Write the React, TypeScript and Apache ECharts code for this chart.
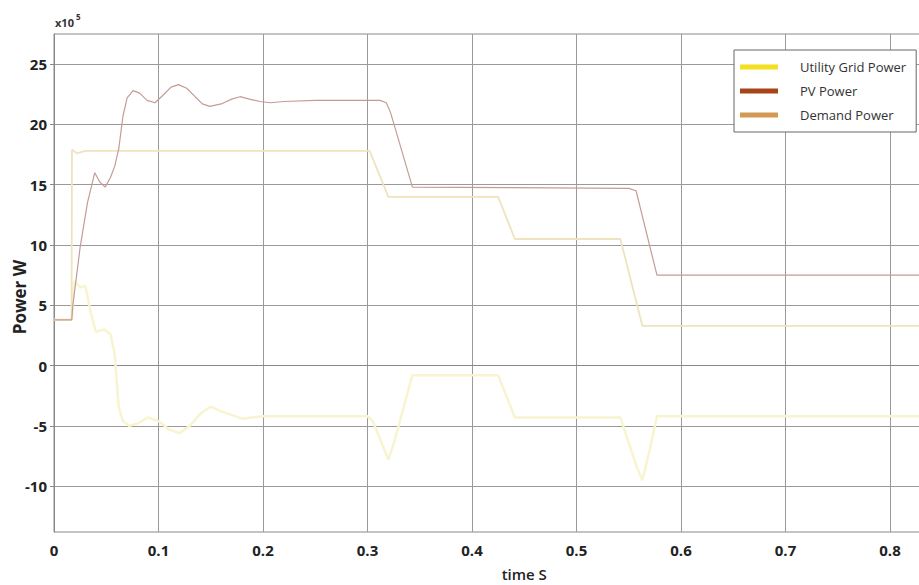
import React, { useEffect, useRef } from "react";
import * as echarts from "echarts";

// ---- data (power in x10^5 W, time in s) ----
const pvTime = [0, 0.017, 0.018, 0.025, 0.032, 0.039, 0.044, 0.049, 0.054, 0.058, 0.062, 0.066, 0.07, 0.0756, 0.082, 0.089, 0.0967, 0.104, 0.112, 0.119, 0.127, 0.135, 0.142, 0.149, 0.16, 0.17, 0.178, 0.187, 0.197, 0.207, 0.22, 0.25, 0.312, 0.318, 0.322, 0.343, 0.55, 0.557, 0.577, 0.9];
const pvPower = [3.8, 3.8, 5.0, 9.8, 13.5, 16.0, 15.2, 14.8, 15.6, 16.5, 18.0, 20.7, 22.2, 22.8, 22.6, 22.0, 21.8, 22.4, 23.1, 23.3, 23.0, 22.3, 21.7, 21.5, 21.7, 22.1, 22.3, 22.1, 21.9, 21.8, 21.9, 22.0, 22.0, 21.8, 21.0, 14.8, 14.7, 14.5, 7.5, 7.5];

const demandTime = [0, 0.0168, 0.0172, 0.022, 0.03, 0.302, 0.32, 0.425, 0.441, 0.542, 0.563, 0.9];
const demandPower = [3.8, 3.8, 17.9, 17.6, 17.8, 17.8, 14.0, 14.0, 10.5, 10.5, 3.3, 3.3];

const gridTime = [0, 0.0172, 0.019, 0.025, 0.03, 0.035, 0.04, 0.048, 0.054, 0.058, 0.062, 0.066, 0.072, 0.08, 0.09, 0.1, 0.11, 0.12, 0.13, 0.14, 0.15, 0.16, 0.18, 0.2, 0.3, 0.305, 0.32, 0.325, 0.343, 0.425, 0.441, 0.542, 0.558, 0.563, 0.57, 0.577, 0.9];
const gridPower = [3.8, 3.8, 7.0, 6.5, 6.6, 4.5, 2.8, 3.0, 2.6, 1.0, -3.5, -4.6, -5.0, -4.8, -4.3, -4.6, -5.3, -5.6, -5.0, -4.0, -3.4, -3.8, -4.4, -4.2, -4.2, -4.6, -7.8, -6.5, -0.8, -0.8, -4.3, -4.3, -8.5, -9.5, -7.0, -4.2, -4.2];

const yTicks = [-10, -5, 0, 5, 10, 15, 20, 25];
const seriesNames = ["Utility Grid Power", "PV Power", "Demand Power"];
const yAxisTitle = "Power W";
const xAxisTitle = "time S";

const FONT = "Open Sans";

function pairs(t: number[], v: number[]) {
  return t.map((x, i) => [x, v[i]]);
}

export default function App() {
  const ref = useRef<HTMLDivElement>(null);
  useEffect(() => {
    if (!ref.current) return;
    const chart = echarts.init(ref.current, undefined, { renderer: "svg" });
    const labelStyle = { color: "#222", fontSize: 15, fontWeight: "bold" as const, fontFamily: FONT };
    chart.setOption({
      animation: false,
      backgroundColor: "#ffffff",
      grid: {
        left: 54,
        top: 34,
        width: 940.5,
        height: 498,
        show: true,
        borderColor: "#8a8a8a",
        borderWidth: 1,
        containLabel: false,
        outerBoundsMode: "none",
      },
      legend: {
        left: 734,
        top: 50,
        orient: "vertical",
        icon: "rect",
        itemWidth: 38,
        itemHeight: 5,
        itemGap: 8,
        padding: [9, 6, 9, 6],
        backgroundColor: "#ffffff",
        borderColor: "#666",
        borderWidth: 1,
        borderRadius: 0,
        textStyle: { color: "#333", fontSize: 13, fontFamily: FONT, lineHeight: 16, padding: [0, 4, 0, 17] },
        data: [
          { name: seriesNames[0], itemStyle: { color: "#f3e01e" } },
          { name: seriesNames[1], itemStyle: { color: "#a8441a" } },
          { name: seriesNames[2], itemStyle: { color: "#d49a55" } },
        ],
      },
      xAxis: {
        type: "value",
        min: 0,
        max: 0.9,
        interval: 0.1,
        axisLine: { show: true, lineStyle: { color: "#888" } },
        axisTick: { show: false },
        splitLine: { show: true, lineStyle: { color: "#9a9a9a", width: 1 } },
        axisLabel: {
          ...labelStyle,
          margin: 10,
          showMaxLabel: false,
          formatter: (v: number) => String(Math.round(v * 10) / 10),
        },
        name: xAxisTitle,
        nameLocation: "middle",
        nameGap: 34,
        nameTextStyle: { color: "#222", fontSize: 15, fontWeight: 600, fontFamily: FONT },
      },
      yAxis: {
        type: "value",
        min: -13.8,
        max: 27.5,
        axisLine: { show: true, lineStyle: { color: "#888" } },
        axisTick: { show: true, customValues: yTicks, length: 4, lineStyle: { color: "#888" } },
        splitLine: { show: true, lineStyle: { color: "#9a9a9a", width: 1 } },
        axisLabel: { ...labelStyle, margin: 7, customValues: yTicks },
      },
      graphic: [
        { type: "text", x: 55, y: 17, style: { text: "x10", fill: "#333", fontSize: 11, fontWeight: "bold", fontFamily: FONT } },
        { type: "text", x: 76, y: 12, style: { text: "5", fill: "#333", fontSize: 8, fontWeight: "bold", fontFamily: FONT } },
        {
          type: "text",
          x: 19,
          y: 297,
          rotation: Math.PI / 2,
          style: {
            text: yAxisTitle,
            fill: "#222",
            fontSize: 17,
            fontWeight: "bold",
            fontFamily: FONT,
            align: "center",
            verticalAlign: "middle",
          },
        },
      ],
      series: [
        {
          name: seriesNames[0],
          type: "line",
          showSymbol: false,
          data: pairs(gridTime, gridPower),
          itemStyle: { color: "#f3e01e" },
          lineStyle: { color: "#f7f4cf", width: 2.5 },
          z: 2,
        },
        {
          name: seriesNames[2],
          type: "line",
          showSymbol: false,
          data: pairs(demandTime, demandPower),
          itemStyle: { color: "#d49a55" },
          lineStyle: { color: "#efe3bf", width: 1.8 },
          z: 3,
        },
        {
          name: seriesNames[1],
          type: "line",
          showSymbol: false,
          data: pairs(pvTime, pvPower),
          itemStyle: { color: "#a8441a" },
          lineStyle: { color: "#c49c96", width: 1.2 },
          z: 4,
        },
      ],
    });
    return () => chart.dispose();
  }, []);
  return <div ref={ref} style={{ position: "fixed", left: 0, top: 0, width: 1000, height: 585 }} />;
}
